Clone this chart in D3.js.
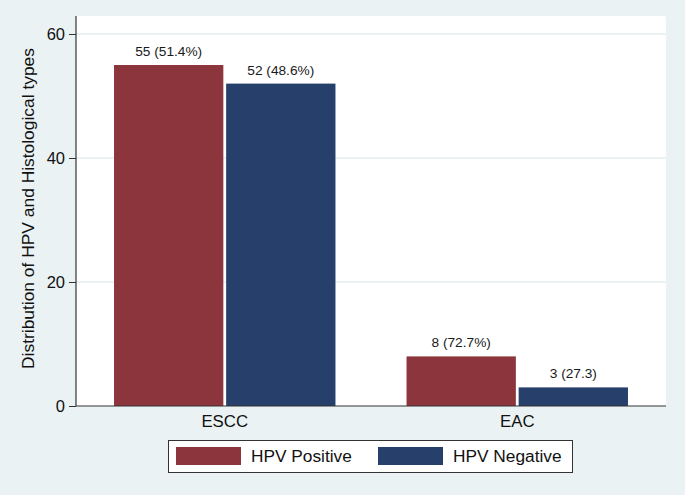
<!DOCTYPE html>
<html><head><meta charset="utf-8">
<script src="https://cdn.jsdelivr.net/npm/d3@7"></script>
<style>body{margin:0;background:#eaf2f3;} svg{display:block;font-family:Arial,"Liberation Sans",sans-serif;}</style>
</head><body>
<script>
const categories = ["ESCC", "EAC"];
const seriesNames = ["HPV Positive", "HPV Negative"];
const positiveValues = [55, 8];
const negativeValues = [52, 3];
const positiveLabels = ["55 (51.4%)", "8 (72.7%)"];
const negativeLabels = ["52 (48.6%)", "3 (27.3)"];
const yTicks = [0, 20, 40, 60];
const colors = ["#8c353c", "#263f6b"];

const W = 685, H = 495;
const svg = d3.select("body").append("svg").attr("width", W).attr("height", H);
svg.append("rect").attr("width", W).attr("height", H).attr("fill", "#eaf2f3");

const plot = {left: 76, right: 666, top: 16, bottom: 406};
svg.append("rect").attr("x", plot.left).attr("y", plot.top)
  .attr("width", plot.right - plot.left).attr("height", plot.bottom - plot.top)
  .attr("fill", "#ffffff").attr("rx", 2);

const y = d3.scaleLinear().domain([0, 60]).range([406, 34]);
const x0 = d3.scaleBand().domain(categories).range([plot.left, plot.right]).paddingInner(0.243).paddingOuter(0.13);
const x1 = d3.scaleBand().domain(seriesNames).range([0, x0.bandwidth()]).paddingInner(0.025);

// gridlines
svg.append("g").selectAll("line").data(yTicks.filter(d => d > 0)).join("line")
  .attr("x1", plot.left).attr("x2", plot.right)
  .attr("y1", d => y(d)).attr("y2", d => y(d))
  .attr("stroke", "#e3eef0").attr("stroke-width", 1.5);

const data = categories.map((c, i) => [
  {cat: c, s: seriesNames[0], v: positiveValues[i], label: positiveLabels[i], color: colors[0]},
  {cat: c, s: seriesNames[1], v: negativeValues[i], label: negativeLabels[i], color: colors[1]}
]).flat();

svg.append("g").selectAll("rect").data(data).join("rect")
  .attr("x", d => x0(d.cat) + x1(d.s))
  .attr("y", d => y(d.v))
  .attr("width", x1.bandwidth())
  .attr("height", d => y(0) - y(d.v))
  .attr("fill", d => d.color);

svg.append("g").selectAll("text").data(data).join("text")
  .attr("x", d => x0(d.cat) + x1(d.s) + x1.bandwidth() / 2)
  .attr("y", d => y(d.v) - 9)
  .attr("text-anchor", "middle").attr("font-size", 13.7).attr("fill", "#1a1a1a")
  .text(d => d.label);

// y axis
const yAxis = svg.append("g").attr("transform", `translate(${plot.left},0)`)
  .call(d3.axisLeft(y).tickValues(yTicks).tickSize(7).tickPadding(4));
yAxis.select(".domain").attr("d", `M0,${plot.top}V${plot.bottom}`).attr("stroke", "#333").attr("stroke-width", 1.2);
yAxis.selectAll(".tick line").attr("stroke", "#333");
yAxis.selectAll(".tick text").attr("font-size", 16.5).attr("fill", "#111").attr("font-family", "Arial, 'Liberation Sans', sans-serif");

// x axis
const xAxis = svg.append("g").attr("transform", `translate(0,${plot.bottom})`)
  .call(d3.axisBottom(x0).tickSize(0).tickPadding(9));
xAxis.select(".domain").attr("d", `M${plot.left},0H${plot.right}`).attr("stroke", "#333").attr("stroke-width", 1.2);
xAxis.selectAll(".tick text").attr("font-size", 16.8).attr("fill", "#111").attr("font-family", "Arial, 'Liberation Sans', sans-serif");

svg.append("text").attr("transform", "translate(34,208.5) rotate(-90)")
  .attr("text-anchor", "middle").attr("font-size", 17.4).attr("fill", "#111")
  .text("Distribution of HPV and Histological types");

// legend
const lg = svg.append("g");
lg.append("rect").attr("x", 168.5).attr("y", 440.5).attr("width", 404).attr("height", 32)
  .attr("fill", "#fff").attr("stroke", "#333").attr("stroke-width", 1);
const legendX = [176, 378];
seriesNames.forEach((s, i) => {
  lg.append("rect").attr("x", legendX[i]).attr("y", 447).attr("width", 65).attr("height", 18).attr("fill", colors[i]);
  lg.append("text").attr("x", legendX[i] + 75).attr("y", 462).attr("font-size", 17.3).attr("fill", "#111").text(s);
});
</script>
</body></html>
